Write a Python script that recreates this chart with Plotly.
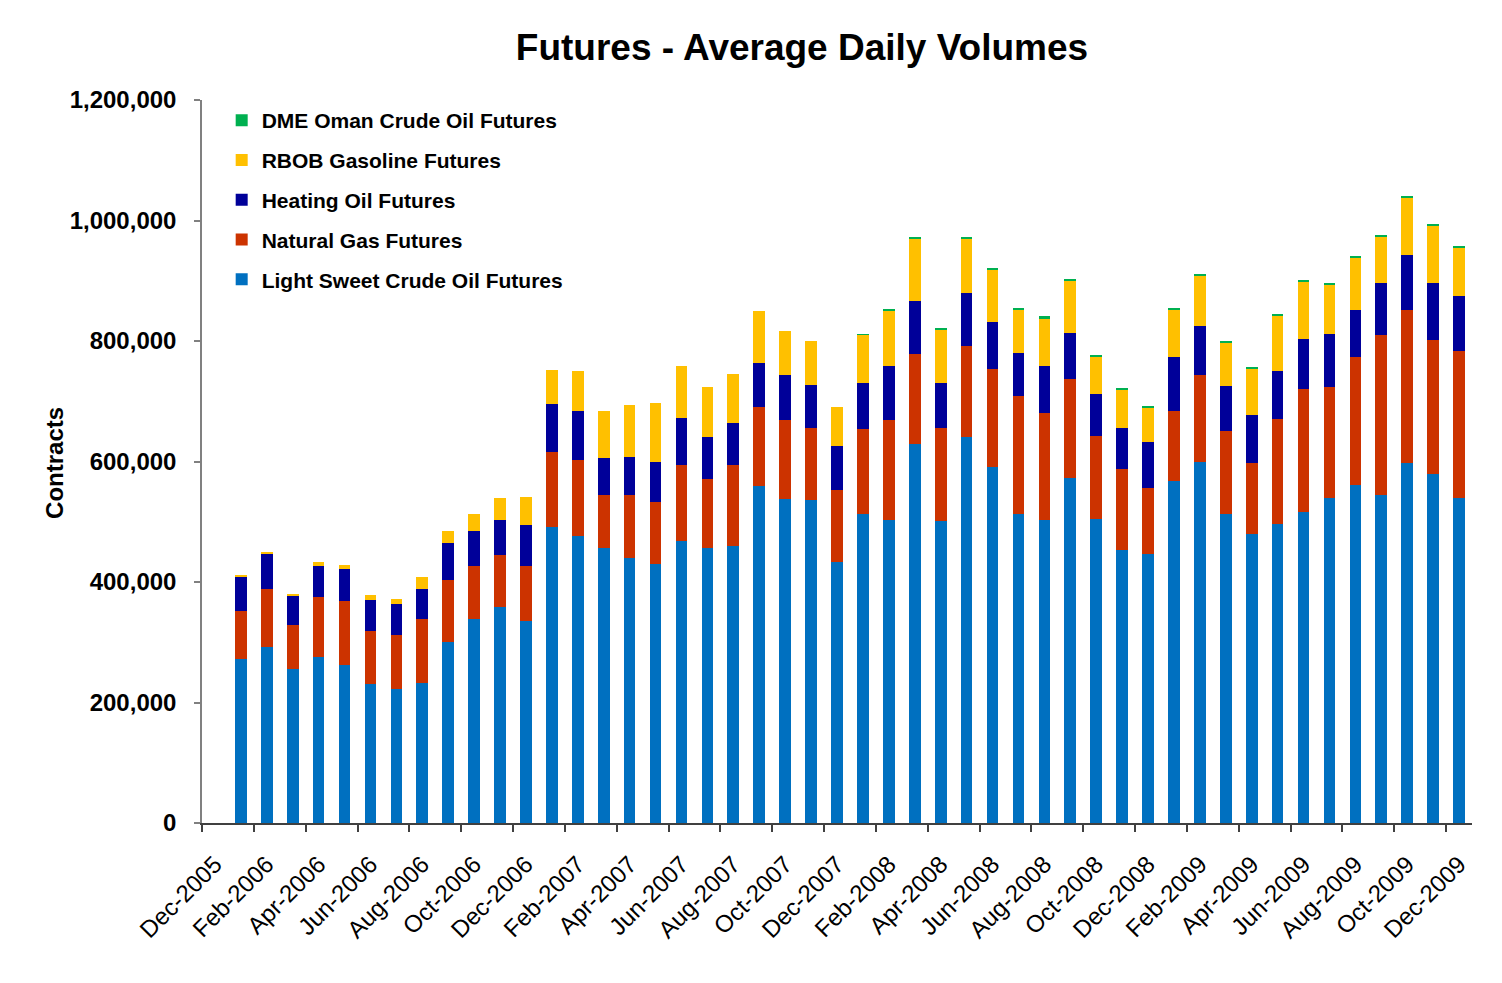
import plotly.graph_objects as go

# Months shown (Jan-2006 .. Dec-2009); axis starts at an empty Dec-2005 slot
months = [f"{m}-{y}" for y in (2006, 2007, 2008, 2009)
          for m in ("Jan", "Feb", "Mar", "Apr", "May", "Jun",
                    "Jul", "Aug", "Sep", "Oct", "Nov", "Dec")]

tick_labels = ["Dec-2005", "Feb-2006", "Apr-2006", "Jun-2006", "Aug-2006", "Oct-2006",
               "Dec-2006", "Feb-2007", "Apr-2007", "Jun-2007", "Aug-2007", "Oct-2007",
               "Dec-2007", "Feb-2008", "Apr-2008", "Jun-2008", "Aug-2008", "Oct-2008",
               "Dec-2008", "Feb-2009", "Apr-2009", "Jun-2009", "Aug-2009", "Oct-2009",
               "Dec-2009"]

light_sweet = [272000, 292000, 255000, 275000, 263000, 230000, 222000, 233000, 300000, 339000, 358000, 335000,
               491000, 476000, 456000, 440000, 430000, 468000, 457000, 460000, 560000, 538000, 536000, 433000,
               513000, 503000, 629000, 502000, 640000, 591000, 513000, 503000, 572000, 505000, 453000, 447000,
               567000, 599000, 513000, 479000, 496000, 516000, 540000, 561000, 545000, 597000, 579000, 540000]

natural_gas = [80000, 96000, 74000, 100000, 105000, 89000, 90000, 106000, 103000, 88000, 86000, 92000,
               125000, 127000, 88000, 104000, 103000, 127000, 114000, 134000, 130000, 131000, 119000, 119000,
               141000, 166000, 149000, 153000, 152000, 163000, 195000, 178000, 165000, 137000, 134000, 109000,
               116000, 145000, 138000, 119000, 174000, 205000, 183000, 213000, 265000, 255000, 222000, 244000]

heating_oil = [57000, 59000, 49000, 51000, 53000, 51000, 51000, 49000, 61000, 57000, 59000, 67000,
               79000, 81000, 61000, 63000, 67000, 78000, 69000, 70000, 73000, 74000, 72000, 74000,
               77000, 89000, 88000, 75000, 88000, 77000, 72000, 77000, 76000, 70000, 69000, 76000,
               90000, 81000, 75000, 79000, 81000, 82000, 89000, 78000, 86000, 90000, 95000, 91000]

rbob = [1500, 3000, 2000, 6500, 8000, 8000, 8000, 19500, 20000, 29000, 36000, 47000,
        57000, 67000, 78000, 86000, 97000, 86000, 84000, 81000, 87000, 74000, 73000, 65000,
        79000, 93000, 104000, 89000, 90000, 88000, 72000, 80000, 88000, 63000, 64000, 58000,
        80000, 84000, 72000, 77000, 92000, 95000, 81000, 87000, 78000, 96000, 95000, 81000]

dme_oman = [0, 0, 0, 0, 0, 0, 0, 0, 0, 0, 0, 0,
            0, 0, 0, 0, 0, 0, 0, 0, 0, 0, 0, 0,
            1500, 2000, 2600, 1800, 2600, 2500, 2600, 2700, 2600, 2000, 2700, 2000,
            2500, 2600, 2100, 1300, 2100, 2100, 2000, 2000, 2000, 2800, 3300, 2200]

series = [
    ("Light Sweet Crude Oil Futures", light_sweet, "#0070C0"),
    ("Natural Gas Futures", natural_gas, "#CC3300"),
    ("Heating Oil Futures", heating_oil, "#000099"),
    ("RBOB Gasoline Futures", rbob, "#FFC000"),
    ("DME Oman Crude Oil Futures", dme_oman, "#00B050"),
]

x_pos = list(range(1, len(months) + 1))
tick_pos = list(range(0, 2 * len(tick_labels), 2))

FONT = "Arial, Liberation Sans, sans-serif"

fig = go.Figure()
for i, (name, vals, color) in enumerate(series):
    fig.add_trace(go.Bar(
        x=x_pos, y=vals, name=name, legendgroup=name,
        legendrank=len(series) - i,
        marker=dict(color=color, line=dict(width=0)),
        width=0.45, customdata=months,
        hovertemplate="%{customdata}<br>%{y:,}<extra>" + name + "</extra>",
    ))

W, H = 1494, 975
fig.update_layout(
    width=W, height=H,
    barmode="stack",
    paper_bgcolor="white", plot_bgcolor="white",
    margin=dict(l=194, r=30, t=91.5, b=159.5, autoexpand=False),
    font=dict(family=FONT, color="black"),
    title=dict(text="Futures - Average Daily Volumes",
               font=dict(family=FONT, size=37, weight="bold", color="black"),
               x=794 / W, xref="container", xanchor="center",
               y=1 - 39 / H, yref="container", yanchor="middle"),
    legend=dict(x=0.0155, y=1.0, xanchor="left", yanchor="top",
                traceorder="grouped", tracegroupgap=9.5,
                bgcolor="rgba(0,0,0,0)",
                font=dict(family=FONT, size=21, weight="bold", color="black")),
    showlegend=True,
    annotations=[dict(text="Contracts", textangle=-90,
                      xref="paper", yref="paper", x=-147 / 1270, y=0.498,
                      xanchor="center", yanchor="middle", showarrow=False,
                      font=dict(family=FONT, size=24, weight="bold", color="black"))],
)

fig.update_xaxes(
    range=[-0.5, len(months) + 0.5],
    tickmode="array", tickvals=tick_pos, ticktext=tick_labels,
    tickangle=-45, ticks="outside", ticklen=16, tickcolor="rgba(0,0,0,0)",
    tickfont=dict(family=FONT, size=24, color="black"),
    showgrid=False, zeroline=False,
    showline=True, linecolor="#404040", linewidth=1.5,
    minor=dict(tickmode="array", tickvals=[p - 0.5 for p in tick_pos],
               ticks="outside", ticklen=7, tickcolor="#404040", tickwidth=1.5),
)

fig.update_yaxes(
    range=[0, 1200000], dtick=200000, tickformat=",d",
    ticks="outside", ticklen=6, tickcolor="#808080", tickwidth=1.5,
    ticklabelstandoff=13,
    tickfont=dict(family=FONT, size=24, weight="bold", color="black"),
    showgrid=False, zeroline=False,
    showline=True, linecolor="#808080", linewidth=1.5,
)

fig.write_html("out.html")
